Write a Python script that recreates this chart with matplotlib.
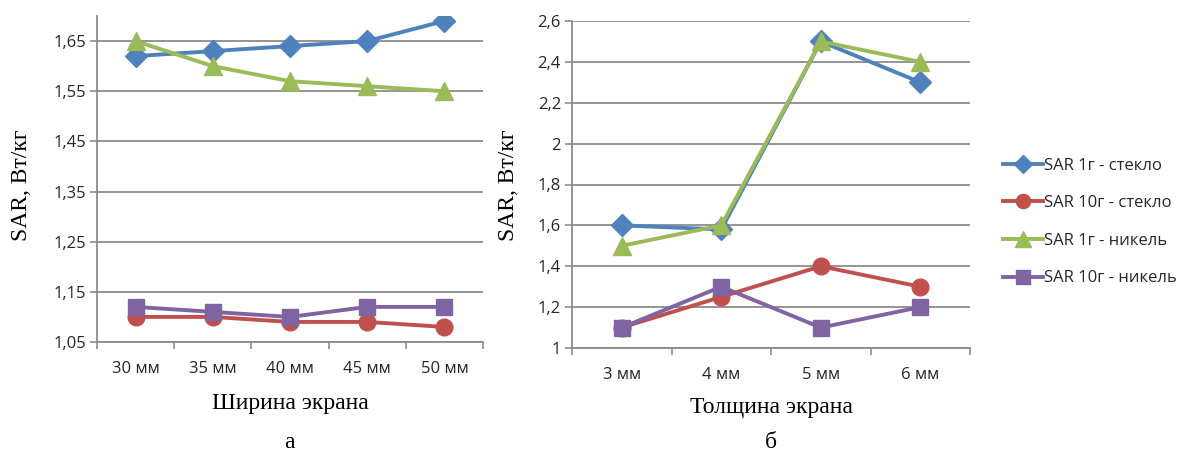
import matplotlib
matplotlib.use("Agg")
import matplotlib.pyplot as plt
from matplotlib.ticker import FixedLocator, FuncFormatter

# Screen width dependence
width_cats = ["30 мм", "35 мм", "40 мм", "45 мм", "50 мм"]
w_sar1_glass = [1.62, 1.63, 1.64, 1.65, 1.69]
w_sar10_glass = [1.10, 1.10, 1.09, 1.09, 1.08]
w_sar1_nickel = [1.65, 1.60, 1.57, 1.56, 1.55]
w_sar10_nickel = [1.12, 1.11, 1.10, 1.12, 1.12]

# Screen thickness dependence
thick_cats = ["3 мм", "4 мм", "5 мм", "6 мм"]
t_sar1_glass = [1.6, 1.58, 2.5, 2.3]
t_sar10_glass = [1.1, 1.25, 1.4, 1.3]
t_sar1_nickel = [1.5, 1.6, 2.5, 2.4]
t_sar10_nickel = [1.1, 1.3, 1.1, 1.2]

labels = ["SAR 1г - стекло", "SAR 10г - стекло", "SAR 1г - никель", "SAR 10г - никель"]
colors = ["#4F81BD", "#C0504D", "#9BBB59", "#8064A2"]
markers = ["D", "o", "^", "s"]
msizes = [11, 12, 13, 12]

grid_c = "#8C8C8C"
tick_font = ["Open Sans", "DejaVu Sans"]
serif_font = ["Liberation Serif", "DejaVu Serif"]
W, H = 1190, 455

fig = plt.figure(figsize=(W / 100, H / 100), dpi=100)
ax1 = fig.add_axes([97/W, 1-342/H, (483-97)/W, (342-16)/H])
ax2 = fig.add_axes([572/W, 1-348/H, (970-572)/W, (348-21)/H])


def draw(ax, cats, series, ylim, yticks, fmt):
    x = list(range(len(cats)))
    handles = []
    for vals, c, m, ms, lab in zip(series, colors, markers, msizes, labels):
        h, = ax.plot(x, vals, color=c, lw=2.8, marker=m, ms=ms,
                     markeredgecolor=c, label=lab, zorder=3)
        handles.append(h)
    ax.set_xlim(-0.5, len(cats) - 0.5)
    ax.set_ylim(*ylim)
    ax.yaxis.set_major_locator(FixedLocator(yticks))
    ax.yaxis.set_major_formatter(FuncFormatter(fmt))
    ax.set_xticks(x)
    ax.set_xticklabels(cats)
    ax.xaxis.set_minor_locator(FixedLocator([i - 0.5 for i in range(len(cats) + 1)]))
    ax.tick_params(axis="x", which="major", length=0, pad=14)
    ax.tick_params(axis="x", which="minor", length=5, color=grid_c, width=1.2)
    ax.tick_params(axis="y", length=5, color=grid_c, width=1.2, pad=3)
    for lbl in ax.get_xticklabels() + ax.get_yticklabels():
        lbl.set_family(tick_font)
        lbl.set_fontsize(12)
        lbl.set_color("#262626")
    ax.grid(axis="y", color=grid_c, lw=1.3)
    ax.set_axisbelow(True)
    for s in ("top", "right"):
        ax.spines[s].set_visible(False)
    for s in ("left", "bottom"):
        ax.spines[s].set_color(grid_c)
        ax.spines[s].set_linewidth(1.3)
    return handles


draw(ax1, width_cats,
     [w_sar1_glass, w_sar10_glass, w_sar1_nickel, w_sar10_nickel],
     (1.05, 1.70), [1.05, 1.15, 1.25, 1.35, 1.45, 1.55, 1.65],
     lambda v, p: f"{v:.2f}".replace(".", ","))

handles = draw(ax2, thick_cats,
               [t_sar1_glass, t_sar10_glass, t_sar1_nickel, t_sar10_nickel],
               (1.0, 2.6), [1.0, 1.2, 1.4, 1.6, 1.8, 2.0, 2.2, 2.4, 2.6],
               lambda v, p: (f"{v:.1f}".rstrip("0").rstrip(".")).replace(".", ","))


def ftext(px, py, s, **kw):
    fig.text(px / W, 1 - py / H, s, family=serif_font, fontsize=17,
             ha="center", va="center", **kw)


ftext(22, 185, "SAR, Вт/кг", rotation=90)
ftext(508, 185, "SAR, Вт/кг", rotation=90)
ftext(290, 404, "Ширина экрана")
ftext(771, 408, "Толщина экрана")
ftext(289, 442, "а")
ftext(771, 443, "б")

leg = fig.legend(handles, labels, loc="center left",
                 bbox_to_anchor=(988/W, 1-222/H), frameon=False,
                 prop={"family": tick_font, "size": 12},
                 handlelength=2.4, handletextpad=0.05, labelspacing=1.3,
                 markerscale=0.85)
for t in leg.get_texts():
    t.set_color("#262626")

fig.savefig("out.png", dpi=100)
